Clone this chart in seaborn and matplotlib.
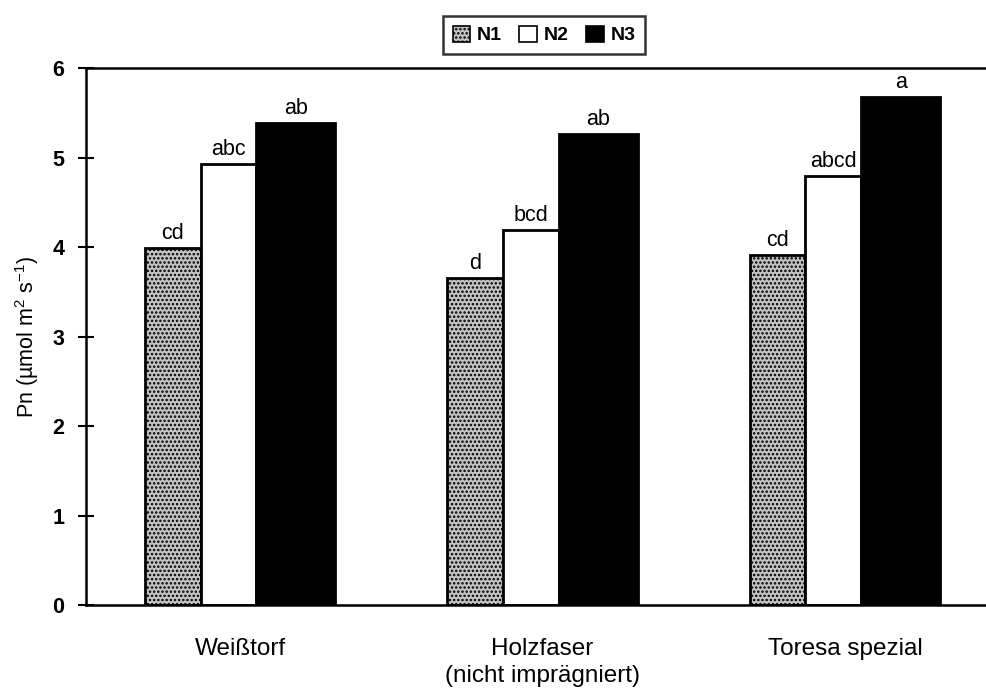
import matplotlib
matplotlib.use("Agg")
import matplotlib.pyplot as plt
import matplotlib.patches as mpatches
import seaborn as sns
import pandas as pd

# ---- data ----
categories = ["Weißtorf", "Holzfaser\n(nicht imprägniert)", "Toresa spezial"]
series_names = ["N1", "N2", "N3"]
n1_values = [3.99, 3.65, 3.91]
n2_values = [4.93, 4.19, 4.79]
n3_values = [5.39, 5.26, 5.68]
n1_letters = ["cd", "d", "cd"]
n2_letters = ["abc", "bcd", "abcd"]
n3_letters = ["ab", "ab", "a"]
y_ticks = [0, 1, 2, 3, 4, 5, 6]
y_label = "Pn (µmol m$^{2}$ s$^{-1}$)"

sns.set_theme(style="white")
plt.rcParams["font.family"] = ["Liberation Sans", "DejaVu Sans"]
plt.rcParams["mathtext.fontset"] = "custom"
plt.rcParams["mathtext.rm"] = "Liberation Sans"
plt.rcParams["mathtext.it"] = "Liberation Sans:italic"
plt.rcParams["mathtext.bf"] = "Liberation Sans:bold"
plt.rcParams["hatch.linewidth"] = 1.2
for key in ["text.color", "axes.labelcolor", "xtick.color", "ytick.color", "axes.edgecolor"]:
    plt.rcParams[key] = "black"

rows = []
for name, vals in zip(series_names, [n1_values, n2_values, n3_values]):
    for c, v in zip(categories, vals):
        rows.append({"Substrat": c, "N": name, "Pn": v})
df = pd.DataFrame(rows)

fig = plt.figure(figsize=(9.87, 6.96), dpi=100)
ax = fig.add_axes([0.0871, 0.1307, 1 - 0.0871, 0.902 - 0.1307])

palette = {"N1": "#c4c4c4", "N2": "#ffffff", "N3": "#000000"}
sns.barplot(data=df, x="Substrat", y="Pn", hue="N", order=categories,
            hue_order=series_names, palette=palette, edgecolor="black",
            linewidth=2, width=0.8, legend=False, ax=ax, errorbar=None)

# relative widths of the three bars in each group (style)
ratios = [1.0, 1.0, 1.42]
group_w = 0.63
unit = group_w / sum(ratios)
for i in range(len(categories)):
    patches = [cont[i] for cont in ax.containers]
    mid = patches[1]
    center = mid.get_x() + mid.get_width() / 2
    left = center - group_w / 2
    for p, r in zip(patches, ratios):
        p.set_x(left)
        p.set_width(r * unit)
        left += r * unit

for p in ax.containers[0]:
    p.set_hatch("....")

for cont, labs in zip(ax.containers, [n1_letters, n2_letters, n3_letters]):
    ax.bar_label(cont, labels=labs, padding=3, fontsize=15.5, color="black")

ax.set_ylim(0, 6)
ax.set_xlim(-0.51, 2.47)
ax.set_yticks(y_ticks)
ax.set_yticklabels([str(t) for t in y_ticks], fontsize=15.5, fontweight="bold")
ax.tick_params(axis="y", direction="inout", length=11, width=1.5, color="black",
               left=True, pad=10)
ax.tick_params(axis="x", length=0, pad=24, labelsize=17.5)
for lab in ax.get_xticklabels():
    lab.set_linespacing(1.3)
ax.set_xlabel("")
ax.set_ylabel(y_label, fontsize=15.5, labelpad=8)

for side in ["left", "bottom", "top"]:
    ax.spines[side].set_visible(True)
    ax.spines[side].set_color("black")
    ax.spines[side].set_linewidth(1.8)
ax.spines["right"].set_visible(False)

leg_handles = []
for cont in ax.containers:
    h = cont[0]
    leg_handles.append(mpatches.Patch(facecolor=h.get_facecolor(), edgecolor="black",
                                      hatch=h.get_hatch(), linewidth=1.2))
leg = fig.legend(leg_handles, series_names, loc="center",
                 bbox_to_anchor=(544 / 987, 1 - 35 / 696), ncol=3,
                 frameon=True, fancybox=False, handlelength=0.9, handleheight=0.9,
                 handletextpad=0.35, columnspacing=0.9, borderpad=0.5,
                 prop={"weight": "bold", "size": 14})
leg.get_frame().set_edgecolor("black")
leg.get_frame().set_linewidth(1.8)

fig.savefig("out.png", dpi=100)
